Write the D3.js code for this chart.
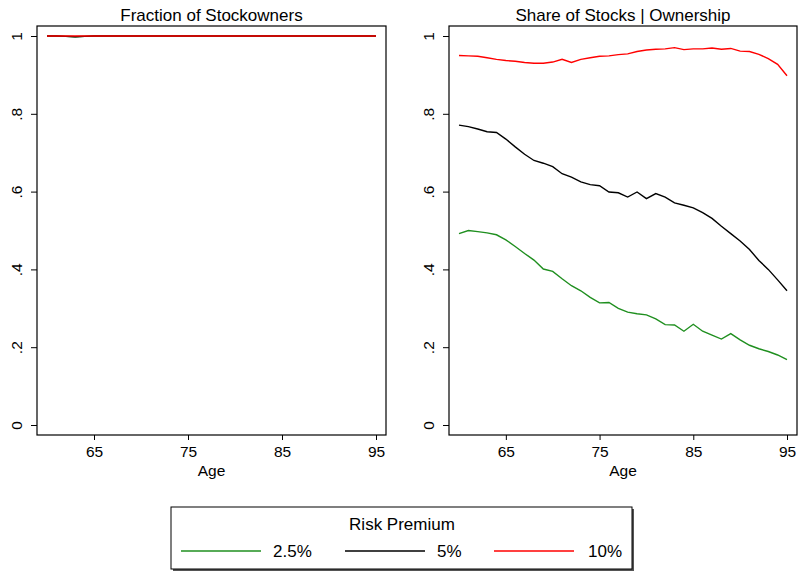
<!DOCTYPE html>
<html>
<head>
<meta charset="utf-8">
<script src="https://cdn.jsdelivr.net/npm/d3@7"></script>
<style>
  body { margin: 0; background: #fff; }
  svg { display: block; font-family: "Liberation Sans", Arial, sans-serif; }
</style>
</head>
<body>
<svg id="chart" width="798" height="573"></svg>
<script>
// ages 60..95
const ages = d3.range(60, 96);

const ownersLow = [1, 1, 0.999, 0.998, 0.999, 1, 1, 1, 1, 1, 1, 1, 1, 1, 1, 1, 1, 1,
  1, 1, 1, 1, 1, 1, 1, 1, 1, 1, 1, 1, 1, 1, 1, 1, 1, 1];
const ownersMid = [1, 1, 0.999, 0.998, 0.999, 1, 1, 1, 1, 1, 1, 1, 1, 1, 1, 1, 1, 1,
  1, 1, 1, 1, 1, 1, 1, 1, 1, 1, 1, 1, 1, 1, 1, 1, 1, 1];
const ownersHigh = [1, 1, 1, 1, 1, 1, 1, 1, 1, 1, 1, 1, 1, 1, 1, 1, 1, 1,
  1, 1, 1, 1, 1, 1, 1, 1, 1, 1, 1, 1, 1, 1, 1, 1, 1, 1];

const shareLow = [0.492, 0.500, 0.497, 0.494, 0.489, 0.476, 0.459, 0.441, 0.424, 0.401,
  0.395, 0.376, 0.358, 0.345, 0.328, 0.314, 0.315, 0.300, 0.290, 0.286,
  0.283, 0.273, 0.258, 0.257, 0.241, 0.259, 0.241, 0.231, 0.221, 0.235,
  0.219, 0.205, 0.196, 0.189, 0.180, 0.168];
const shareMid = [0.771, 0.767, 0.761, 0.754, 0.752, 0.735, 0.715, 0.696, 0.680, 0.673,
  0.664, 0.646, 0.637, 0.625, 0.618, 0.615, 0.599, 0.597, 0.586, 0.599,
  0.582, 0.595, 0.586, 0.571, 0.565, 0.558, 0.546, 0.531, 0.511, 0.492,
  0.473, 0.451, 0.423, 0.400, 0.373, 0.345];
const shareHigh = [0.950, 0.949, 0.948, 0.944, 0.940, 0.937, 0.935, 0.932, 0.930, 0.930,
  0.933, 0.940, 0.932, 0.940, 0.944, 0.948, 0.949, 0.952, 0.954, 0.960,
  0.964, 0.966, 0.967, 0.970, 0.965, 0.967, 0.967, 0.969, 0.966, 0.968,
  0.961, 0.960, 0.953, 0.942, 0.927, 0.898];

const xTicks = [65, 75, 85, 95];
const yTicks = [0, 0.2, 0.4, 0.6, 0.8, 1];
const yTickLabels = ["0", ".2", ".4", ".6", ".8", "1"];

const seriesNames = ["2.5%", "5%", "10%"];
const seriesColors = ["#1f8f1f", "#000000", "#ff0000"];
const legendTitle = "Risk Premium";

const svg = d3.select("#chart");
const FONT = "Liberation Sans, Arial, sans-serif";

function panel({ left, right, top, bottom, title, series }) {
  const x = d3.scaleLinear().domain([60, 95]).range([left + 10, right - 10]);
  const y = d3.scaleLinear().domain([0, 1]).range([bottom - 10, top + 10]);
  const g = svg.append("g");

  g.append("rect")
    .attr("x", left).attr("y", top)
    .attr("width", right - left).attr("height", bottom - top)
    .attr("fill", "none").attr("stroke", "#000").attr("stroke-width", 1.2);

  g.append("text")
    .attr("x", (left + right) / 2).attr("y", 21)
    .attr("text-anchor", "middle")
    .attr("font-size", 17)
    .text(title);

  // x axis
  const xAxis = g.append("g")
    .attr("transform", `translate(0,${bottom})`)
    .call(d3.axisBottom(x).tickValues(xTicks).tickSize(5).tickPadding(6));
  xAxis.select(".domain").remove();
  xAxis.selectAll("text").attr("font-size", 15.5).attr("fill", "#000")
    .attr("font-family", FONT);
  xAxis.selectAll("line").attr("stroke", "#000");

  g.append("text")
    .attr("x", (left + right) / 2).attr("y", bottom + 41)
    .attr("text-anchor", "middle")
    .attr("font-size", 15.5)
    .text("Age");

  // y axis
  const yAxis = g.append("g")
    .attr("transform", `translate(${left},0)`)
    .call(d3.axisLeft(y).tickValues(yTicks).tickSize(6)
      .tickFormat((d, i) => yTickLabels[i]));
  yAxis.select(".domain").remove();
  yAxis.selectAll("line").attr("stroke", "#000");
  yAxis.selectAll("text")
    .attr("font-size", 15.5).attr("fill", "#000")
    .attr("font-family", FONT)
    .attr("x", null)
    .attr("text-anchor", "middle")
    .attr("transform", "translate(-20,0) rotate(-90)")
    .attr("dy", "0.35em");

  const line = d3.line()
    .x((d, i) => x(ages[i]))
    .y((d) => y(d));

  series.forEach((vals, i) => {
    g.append("path")
      .datum(vals)
      .attr("d", line)
      .attr("fill", "none")
      .attr("stroke", seriesColors[i])
      .attr("stroke-width", 1.4);
  });
}

panel({
  left: 37, right: 386, top: 26, bottom: 435,
  title: "Fraction of Stockowners",
  series: [ownersLow, ownersMid, ownersHigh],
});

panel({
  left: 449, right: 797, top: 26, bottom: 435,
  title: "Share of Stocks | Ownership",
  series: [shareLow, shareMid, shareHigh],
});

// legend
const lg = svg.append("g");
lg.append("rect")
  .attr("x", 173).attr("y", 509).attr("width", 461).attr("height", 62)
  .attr("fill", "#555");
lg.append("rect")
  .attr("x", 171).attr("y", 507).attr("width", 461).attr("height", 62)
  .attr("fill", "#fff").attr("stroke", "#000").attr("stroke-width", 1);
lg.append("text")
  .attr("x", 402).attr("y", 530)
  .attr("text-anchor", "middle")
  .attr("font-size", 17)
  .text(legendTitle);

const itemX = d3.scaleOrdinal().domain(seriesNames).range([181, 345, 494]);
const itemG = lg.selectAll("g.item")
  .data(seriesNames)
  .join("g")
  .attr("class", "item")
  .attr("transform", (d) => `translate(${itemX(d)},551)`);
itemG.append("line")
  .attr("x1", 0).attr("x2", 80)
  .attr("stroke", (d, i) => seriesColors[i])
  .attr("stroke-width", 1.4);
itemG.append("text")
  .attr("x", (d, i) => [92, 92, 94][i])
  .attr("dy", "0.35em")
  .attr("font-size", 17)
  .text((d) => d);
</script>
</body>
</html>
